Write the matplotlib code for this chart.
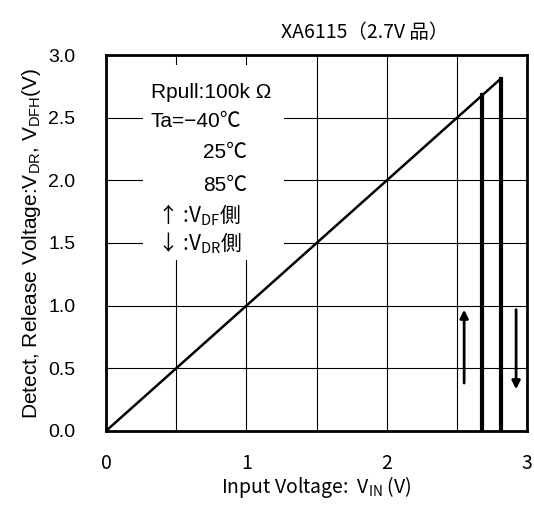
import numpy as np
import matplotlib.pyplot as plt
from matplotlib.patches import Rectangle

plt.rcParams['font.family'] = ['Noto Sans CJK JP', 'DejaVu Sans']
SANS = ['Liberation Sans', 'Noto Sans CJK JP', 'DejaVu Sans']

# diagonal (VOUT follows VIN) and detect/release points
vin_line = [0.0, 2.81]
vout_line = [0.0, 2.81]
vdr = 2.68   # release voltage
vdf = 2.81   # detect voltage

x_ticks = [0, 1, 2, 3]
y_ticks = [0.0, 0.5, 1.0, 1.5, 2.0, 2.5, 3.0]

legend_lines = ["Rpull:100k Ω", "Ta=−40℃", "25℃", "85℃",
                r"↑ :V$\mathregular{_{DF}}$側", r"↓ :V$\mathregular{_{DR}}$側"]

fig = plt.figure(figsize=(5.34, 5.07), dpi=100)
ax = fig.add_axes([0.1985, 0.150, 0.789, 0.7415])

ax.set_xlim(0, 3)
ax.set_ylim(0, 3)
ax.set_xticks(np.arange(0, 3.01, 0.5), minor=True)
ax.set_xticks(x_ticks)
ax.set_yticks(y_ticks)
ax.set_xticklabels([str(t) for t in x_ticks], fontsize=14)
ax.set_yticklabels(['%.1f' % t for t in y_ticks], fontsize=14, family=SANS)
ax.tick_params(length=0, which='both')
ax.tick_params(axis='y', pad=22)
ax.tick_params(axis='x', pad=16)
ax.grid(True, which='both', color='black', lw=0.8)
for s in ax.spines.values():
    s.set_linewidth(2)

# white box behind the notes
ax.add_patch(Rectangle((0.26, 1.365), 1.01, 1.555, facecolor='white', edgecolor='none', zorder=2))

ax.plot(vin_line, vout_line, color='black', lw=1.8, zorder=3)
ax.plot([vdr, vdr], [vdr, 0], color='black', lw=3, zorder=3)
ax.plot([vdf, vdf], [vdf, 0], color='black', lw=3, zorder=3)

# arrows
ax.annotate('', xy=(2.55, 0.99), xytext=(2.55, 0.36),
            arrowprops=dict(arrowstyle='-|>', color='black', lw=2, mutation_scale=12), zorder=4)
ax.annotate('', xy=(2.92, 0.31), xytext=(2.92, 0.99),
            arrowprops=dict(arrowstyle='-|>', color='black', lw=2, mutation_scale=12), zorder=4)

# notes
ax.text(0.32, 2.70, legend_lines[0], fontsize=15, va='center', family=SANS, zorder=5)
ax.text(0.32, 2.47, legend_lines[1], fontsize=15, va='center', family=SANS, zorder=5)
ax.text(0.69, 2.22, legend_lines[2], fontsize=15, va='center', family=SANS, zorder=5)
ax.text(0.69, 1.96, legend_lines[3], fontsize=15, va='center', family=SANS, zorder=5)
ax.text(0.36, 1.72, legend_lines[4], fontsize=15, va='center', zorder=5)
ax.text(0.36, 1.50, legend_lines[5], fontsize=15, va='center', zorder=5)

fig.text(0.683, 0.935, "XA6115（2.7V 品）", fontsize=14, ha='center', va='center')
ax.set_xlabel(r"Input Voltage:  V$\mathregular{_{IN}}$ (V)", fontsize=14, labelpad=0)
ax.set_ylabel(r"Detect, Release Voltage:V$\mathregular{_{DR}}$, V$\mathregular{_{DFH}}$(V)", fontsize=15,
              family=SANS, labelpad=4)

fig.savefig('out.png', dpi=100)
